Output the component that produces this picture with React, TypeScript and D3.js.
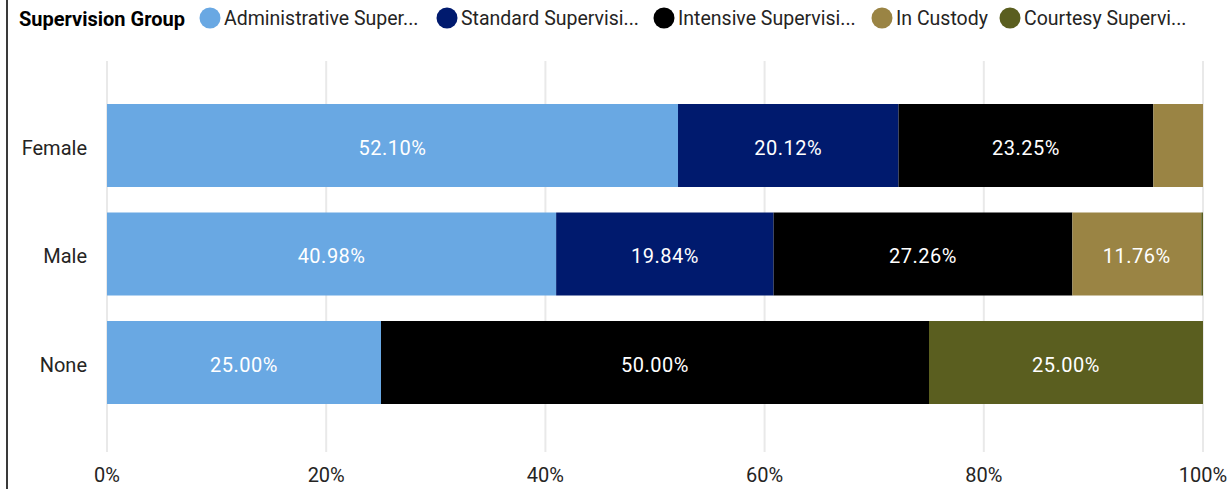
import React, { useEffect, useRef } from "react";
import * as d3 from "d3";

// categories (y axis) and series (stack order)
const genders = ["Female", "Male", "None"];
const groups = [
    "Administrative Supervision",
    "Standard Supervision",
    "Intensive Supervision",
    "In Custody",
    "Courtesy Supervision",
];
const legendLabels = [
    "Administrative Super...",
    "Standard Supervisi...",
    "Intensive Supervisi...",
    "In Custody",
    "Courtesy Supervi...",
];
const groupColors = ["#69a8e3", "#001a6e", "#000000", "#9a8444", "#5a5e1f"];

// percent share per gender, one array per group
const administrative = [52.1, 40.98, 25.0];
const standard = [20.12, 19.84, 0];
const intensive = [23.25, 27.26, 50.0];
const inCustody = [4.53, 11.76, 0];
const courtesy = [0, 0.16, 25.0];

const xTicks = [0, 20, 40, 60, 80, 100];

const W = 1228;
const H = 489;
const FONT = "Roboto, 'Noto Sans', sans-serif";
const TEXT = "#252423";

const App: React.FC = () => {
    const svgRef = useRef<SVGSVGElement | null>(null);

    useEffect(() => {
        if (!svgRef.current) return;
        const svg = d3.select(svgRef.current);
        svg.selectAll("*").remove();

        const series = [administrative, standard, intensive, inCustody, courtesy];
        const rows = genders.map((g, i) => {
            const r: any = { gender: g };
            groups.forEach((k, j) => (r[k] = series[j][i]));
            return r;
        });
        const stacked = d3.stack<any>().keys(groups)(rows);

        const x = d3.scaleLinear().domain([0, 100]).range([107, 1203]);
        const y = d3
            .scaleBand()
            .domain(genders)
            .range([91.25, 416.75])
            .paddingInner(0.235)
            .paddingOuter(0.1175);
        const color = d3.scaleOrdinal<string>().domain(groups).range(groupColors);

        // left border of the visual
        svg.append("rect")
            .attr("x", 6)
            .attr("y", 0)
            .attr("width", 2)
            .attr("height", H)
            .attr("fill", "#3a3a3a");

        // gridlines + x labels
        const xg = svg.append("g");
        xg.selectAll("line")
            .data(xTicks)
            .join("line")
            .attr("x1", (d) => x(d))
            .attr("x2", (d) => x(d))
            .attr("y1", 61)
            .attr("y2", 452)
            .attr("stroke", "#e9e9e9")
            .attr("stroke-width", 2);
        xg.selectAll("text")
            .data(xTicks)
            .join("text")
            .attr("x", (d) => x(d))
            .attr("y", 482)
            .attr("text-anchor", "middle")
            .attr("font-family", FONT)
            .attr("font-size", 20)
            .attr("fill", TEXT)
            .text((d) => `${d}%`);

        // y labels
        svg.append("g")
            .selectAll("text")
            .data(genders)
            .join("text")
            .attr("x", 87)
            .attr("y", (d) => y(d)! + y.bandwidth() / 2)
            .attr("dy", "0.45em")
            .attr("text-anchor", "end")
            .attr("font-family", FONT)
            .attr("font-size", 20)
            .attr("fill", TEXT)
            .text((d) => d);

        // bars
        const layer = svg
            .append("g")
            .selectAll("g")
            .data(stacked)
            .join("g")
            .attr("fill", (d) => color(d.key));
        layer
            .selectAll("rect")
            .data((d) => d)
            .join("rect")
            .attr("x", (d) => x(d[0]))
            .attr("y", (d) => y(d.data.gender)!)
            .attr("width", (d) => Math.max(0, x(d[1]) - x(d[0])))
            .attr("height", y.bandwidth());

        // data labels
        const labels: any[] = [];
        stacked.forEach((s) =>
            s.forEach((d) => {
                const v = d[1] - d[0];
                if (x(d[1]) - x(d[0]) > 75)
                    labels.push({ x: (x(d[0]) + x(d[1])) / 2, g: d.data.gender, v });
            })
        );
        svg.append("g")
            .selectAll("text")
            .data(labels)
            .join("text")
            .attr("x", (d) => d.x)
            .attr("y", (d) => y(d.g)! + y.bandwidth() / 2)
            .attr("dy", "0.45em")
            .attr("text-anchor", "middle")
            .attr("font-family", FONT)
            .attr("font-size", 20)
            .attr("letter-spacing", 0.5)
            .attr("fill", "#ffffff")
            .text((d) => `${d.v.toFixed(2)}%`);

        // legend
        const lg = svg.append("g").attr("font-family", FONT).attr("font-size", 19.5);
        lg.append("text")
            .attr("x", 19)
            .attr("y", 18)
            .attr("dy", "0.38em")
            .attr("font-weight", "bold")
            .attr("font-size", 20)
            .attr("fill", "#000")
            .text("Supervision Group");
        const legendX = [210, 447, 664, 882, 1010];
        groups.forEach((k, i) => {
            lg.append("circle")
                .attr("cx", legendX[i])
                .attr("cy", 18)
                .attr("r", 10.5)
                .attr("fill", color(k));
            lg.append("text")
                .attr("x", legendX[i] + 14)
                .attr("y", 18)
                .attr("dy", "0.38em")
                .attr("fill", TEXT)
                .text(legendLabels[i]);
        });
    }, []);

    return (
        <svg
            ref={svgRef}
            width={W}
            height={H}
            style={{ position: "absolute", left: 0, top: 0, background: "#fff" }}
        ></svg>
    );
};

export default App;
